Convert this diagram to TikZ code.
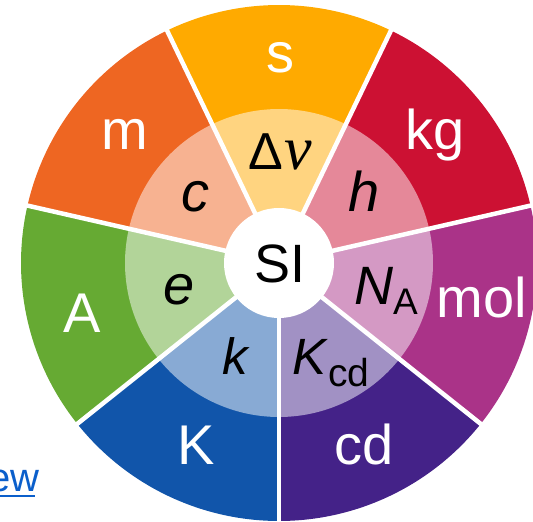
\documentclass[tikz,border=0pt]{standalone}
\usepackage{fontspec}
\setmainfont{Liberation Sans}
\newfontfamily\nufont{Liberation Serif}
\definecolor{cS}{HTML}{FFAA00}
\definecolor{cKg}{HTML}{CC1133}
\definecolor{cMol}{HTML}{AA3388}
\definecolor{cCd}{HTML}{442288}
\definecolor{cK}{HTML}{1155AA}
\definecolor{cA}{HTML}{66AA33}
\definecolor{cM}{HTML}{EE6622}
\definecolor{linkblue}{HTML}{0B5FCB}
\begin{document}
\begin{tikzpicture}[x=1pt,y=1pt,
  unit/.style={anchor=base, inner sep=0pt, text=white, font=\fontsize{56}{60}\selectfont},
  const/.style={anchor=base, inner sep=0pt, text=black, font=\fontsize{56}{60}\selectfont\itshape},
  divider/.style={white, line width=4.5pt}]
\useasboundingbox (0,0) rectangle (533,522);
\coordinate (C) at (279,259);
\foreach \col [count=\i from 0] in {cS,cKg,cMol,cCd,cK,cA,cM} {
  \pgfmathsetmacro\a{90-\i*360/7}
  \fill[\col] (C) -- ++(\a-25.714:258) arc[start angle=\a-25.714, end angle=\a+25.714, radius=258] -- cycle;
  \fill[\col!50!white] (C) -- ++(\a-25.714:154) arc[start angle=\a-25.714, end angle=\a+25.714, radius=154] -- cycle;
}
\foreach \i in {0,...,6} {
  \draw[divider] (C) -- ++({64.286-\i*360/7}:262);
}
\fill[white] (C) circle[radius=55];
% units
\node[unit] (s) at (280.6,449) {s};
\node[unit] (kg) at (435.5,372) {kg};
\node[unit] (mol) at (482,204) {mol};
\node[unit] (cd) at (364,57) {cd};
\node[unit] (K) at (196.6,57) {K};
\node[unit] (A) at (82.5,189) {A};
\node[unit] (m) at (125,372) {m};
% constants
\node[anchor=base, inner sep=0pt] (dnu) at (280.6,352) {\fontsize{52}{56}\selectfont Δ\kern1pt{\nufont\itshape\fontsize{62}{64}\selectfont ν}};
\node[const] (c) at (195.6,310) {c};
\node[const] (h) at (364,310) {h};
\node[const] (e) at (178.6,217) {e};
\node[const, anchor=base west, font=\fontsize{54}{58}\selectfont] (NA) at (354,217) {\textit{N}\raisebox{-10pt}{\fontsize{37}{40}\selectfont A}};
\node[const, font=\fontsize{51}{55}\selectfont\itshape] (k) at (235.6,147) {k};
\node[const, anchor=base west, font=\fontsize{51}{55}\selectfont] (Kcd) at (292,147) {\textit{K}\raisebox{-12pt}{\fontsize{39}{42}\selectfont cd}};
\node[anchor=base, inner sep=0pt, font=\fontsize{54}{58}\selectfont] (SI) at (279.8,239) {SI};
% link fragment
\node[anchor=base east, inner sep=0pt, text=linkblue, font=\fontsize{40}{44}\selectfont] (ew) at (39.5,30) {ew};
\coordinate (ul0) at (0,25.5);
\coordinate (ul1) at (35,25.5);
\draw[linkblue, line width=2pt] (ul0) -- (ul1);
\end{tikzpicture}
\end{document}
